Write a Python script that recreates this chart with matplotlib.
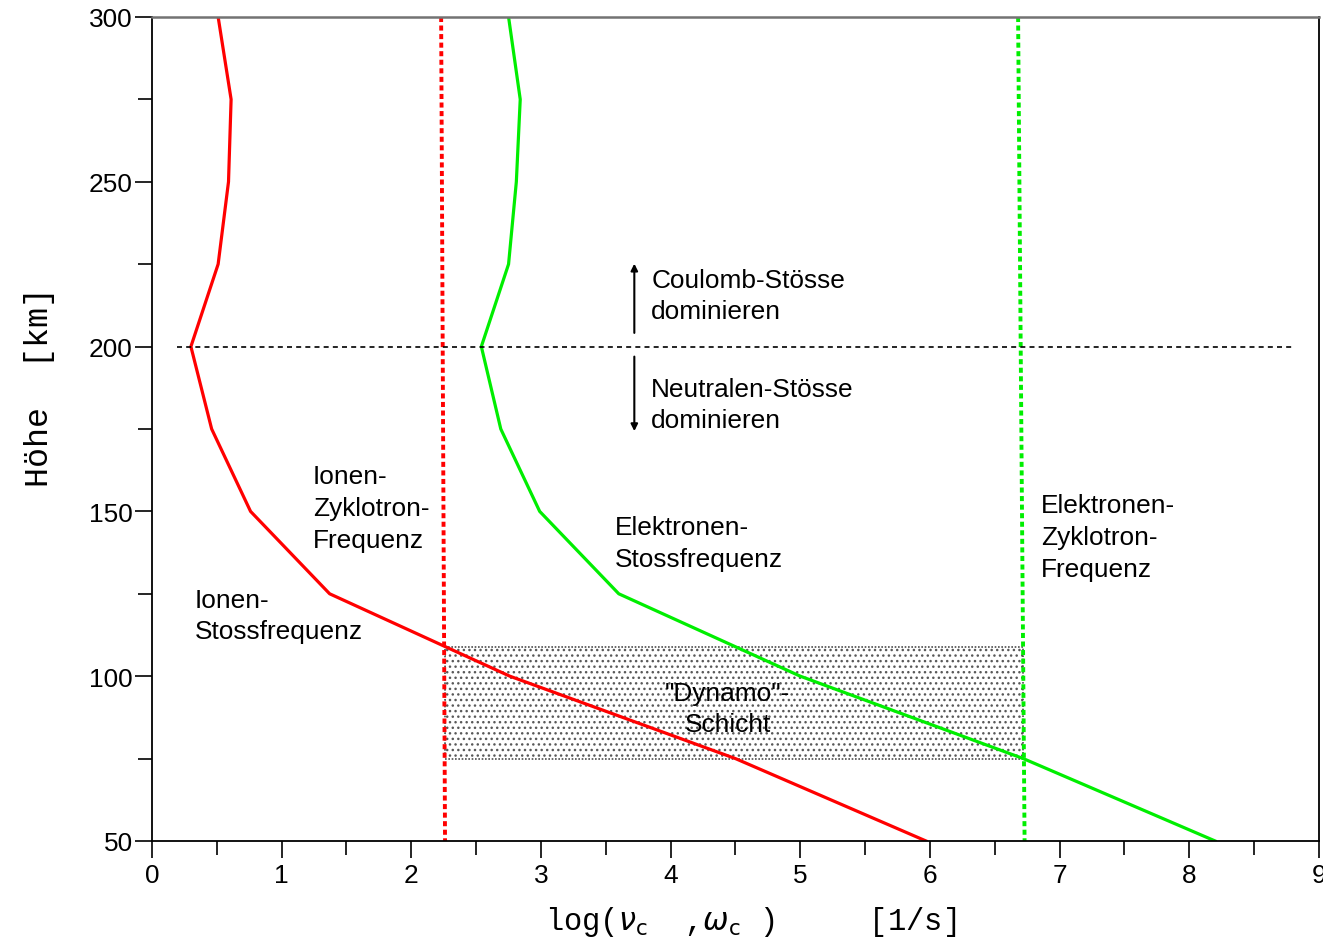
import numpy as np
import matplotlib.pyplot as plt
from matplotlib.patches import Rectangle

# Hoehe [km]
hoehe = [300, 275, 250, 225, 200, 175, 150, 125, 100, 75, 50]
# log Stossfrequenzen
ionen_stoss = [0.51, 0.61, 0.59, 0.51, 0.30, 0.46, 0.76, 1.37, 2.76, 4.50, 5.97]
elektronen_stoss = [2.75, 2.84, 2.81, 2.75, 2.54, 2.69, 2.99, 3.60, 5.00, 6.72, 8.20]
# Zyklotronfrequenzen (oben, unten)
zyk_hoehe = [300, 50]
ionen_zyk = [2.23, 2.26]
elektronen_zyk = [6.68, 6.73]
# Grenze Coulomb / Neutralen
grenze_h = 200
grenze_x = [0.19, 8.81]
# Dynamo-Schicht
dyn_x = [2.26, 6.72]
dyn_h = [75, 109]

plt.rcParams['font.family'] = ['Liberation Sans', 'DejaVu Sans']
fig = plt.figure(figsize=(13.23, 9.45), dpi=100)
ax = fig.add_axes([0.1149, 0.109, 0.882, 0.872])

ax.add_patch(Rectangle((dyn_x[0], dyn_h[0]), dyn_x[1] - dyn_x[0], dyn_h[1] - dyn_h[0],
                       facecolor='none', edgecolor='0.35', hatch='...', lw=0))
ax.add_patch(Rectangle((dyn_x[0], dyn_h[0]), dyn_x[1] - dyn_x[0], dyn_h[1] - dyn_h[0],
                       fill=False, edgecolor='0.3', ls=(0, (1, 1)), lw=1.2))

ax.plot(ionen_stoss, hoehe, color='#ff0000', lw=2.3)
ax.plot(elektronen_stoss, hoehe, color='#00ee00', lw=2.3)
ax.plot(ionen_zyk, zyk_hoehe, color='#ff0000', lw=2.8, ls=(0, (1.3, 0.9)))
ax.plot(elektronen_zyk, zyk_hoehe, color='#00ee00', lw=2.8, ls=(0, (1.3, 0.9)))
ax.plot(grenze_x, [grenze_h, grenze_h], color='black', lw=1.2, ls=(0, (3, 2.5)))

ax.annotate('', xy=(3.72, 226), xytext=(3.72, 203.3),
            arrowprops=dict(arrowstyle='-|>', color='black', lw=1.5, mutation_scale=10))
ax.annotate('', xy=(3.72, 173.5), xytext=(3.72, 197.8),
            arrowprops=dict(arrowstyle='-|>', color='black', lw=1.5, mutation_scale=10))

fs = 18.9
ls = 1.41
ax.text(3.85, 215.5, 'Coulomb-Stösse\ndominieren', fontsize=fs, va='center', ha='left', linespacing=ls)
ax.text(3.85, 182.4, 'Neutralen-Stösse\ndominieren', fontsize=fs, va='center', ha='left', linespacing=ls)
ax.text(1.24, 151.1, 'Ionen-\nZyklotron-\nFrequenz', fontsize=fs, va='center', ha='left', linespacing=ls)
ax.text(0.33, 118.4, 'Ionen-\nStossfrequenz', fontsize=fs, va='center', ha='left', linespacing=ls)
ax.text(3.57, 140.4, 'Elektronen-\nStossfrequenz', fontsize=fs, va='center', ha='left', linespacing=ls)
ax.text(6.855, 142.3, 'Elektronen-\nZyklotron-\nFrequenz', fontsize=fs, va='center', ha='left', linespacing=ls)
ax.text(4.44, 90.2, '"Dynamo"-\nSchicht', fontsize=fs, va='center', ha='center', linespacing=ls)

ax.set_xlim(0, 9)
ax.set_ylim(50, 300)
ax.set_xticks(range(0, 10))
ax.set_xticks(np.arange(0.5, 9, 1), minor=True)
ax.set_yticks(range(50, 301, 50))
ax.set_yticks(range(75, 300, 50), minor=True)
ax.tick_params(which='major', direction='out', length=12, width=1.2, labelsize=fs, pad=4)
ax.tick_params(which='minor', direction='out', length=10, width=1.2)
ax.tick_params(axis='y', pad=2)
ax.spines['top'].set_color('0.45')
ax.spines['top'].set_linewidth(1.8)
for s in ['left', 'bottom', 'right']:
    ax.spines[s].set_linewidth(1.3)

mono = ['Liberation Mono', 'DejaVu Sans Mono']
ax.set_ylabel('Höhe  [km]', family=mono, fontsize=24)
ax.yaxis.set_label_coords(-0.083, 0.552)
ax.set_xlabel(r'log($\nu_\mathrm{c}$  ,$\omega_\mathrm{c}$ )     [1/s]', family=mono, fontsize=22)
ax.xaxis.set_label_coords(0.513, -0.076)

fig.savefig('out.png', dpi=100)
